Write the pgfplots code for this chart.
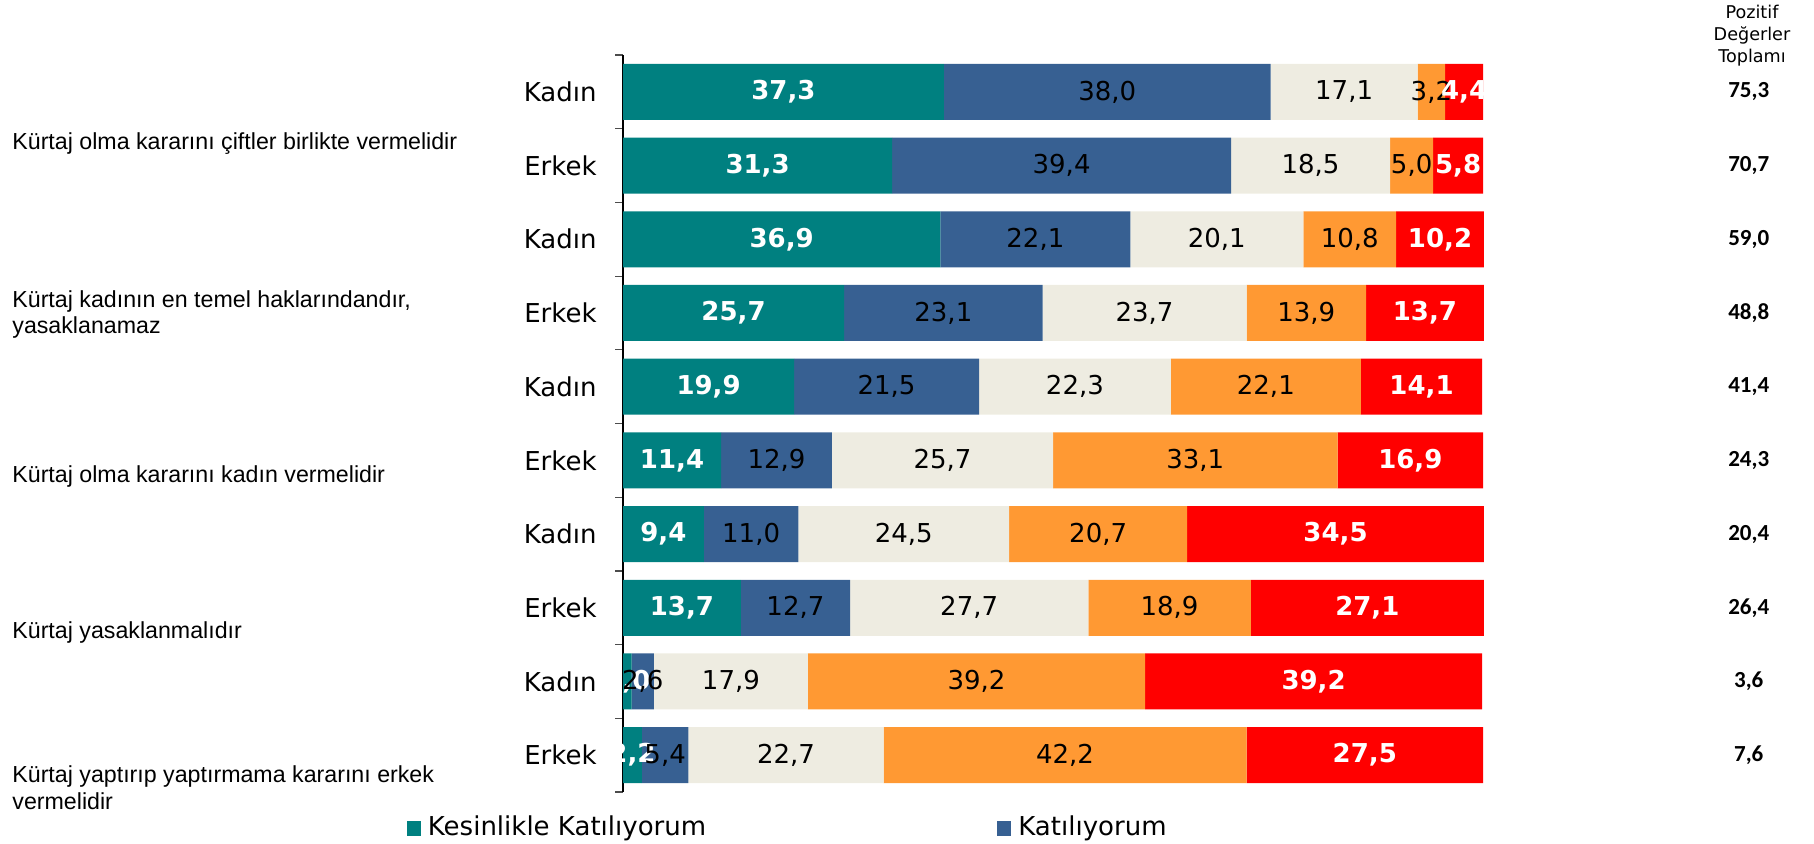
\documentclass[border=0pt]{standalone}
\usepackage{fontspec}
\setmainfont{DejaVu Sans}
\newfontfamily\arialf{Liberation Sans}
\newfontfamily\calib{Carlito}
\usepackage{pgfplots}
\usepackage{pgfplotstable}
\pgfplotsset{compat=1.18}
\definecolor{cTeal}{RGB}{0,128,128}
\definecolor{cBlue}{RGB}{55,96,146}
\definecolor{cBeige}{RGB}{238,236,225}
\definecolor{cOrange}{RGB}{255,153,51}
\definecolor{cRed}{RGB}{255,0,0}
\pgfplotstableread{
row a b c d e
0 37.3 38.0 17.1 3.2 4.4
1 31.3 39.4 18.5 5.0 5.8
2 36.9 22.1 20.1 10.8 10.2
3 25.7 23.1 23.7 13.9 13.7
4 19.9 21.5 22.3 22.1 14.1
5 11.4 12.9 25.7 33.1 16.9
6 9.4 11.0 24.5 20.7 34.5
7 13.7 12.7 27.7 18.9 27.1
8 1.0 2.6 17.9 39.2 39.2
9 2.2 5.4 22.7 42.2 27.5
}\datatab
\pgfplotstablecreatecol[create col/expr={\thisrow{a}/2}]{ma}{\datatab}
\pgfplotstablecreatecol[create col/expr={\thisrow{a}+\thisrow{b}/2}]{mb}{\datatab}
\pgfplotstablecreatecol[create col/expr={\thisrow{a}+\thisrow{b}+\thisrow{c}/2}]{mc}{\datatab}
\pgfplotstablecreatecol[create col/expr={\thisrow{a}+\thisrow{b}+\thisrow{c}+\thisrow{d}/2}]{md}{\datatab}
\pgfplotstablecreatecol[create col/expr={\thisrow{a}+\thisrow{b}+\thisrow{c}+\thisrow{d}+\thisrow{e}/2}]{me}{\datatab}
\pgfplotsset{
  lbl/.style={draw=none, mark=none, point meta=explicit symbolic,
    nodes near coords={\pgfmathprintnumber[assume math mode=true,fixed,fixed zerofill,precision=1,use comma]{\pgfplotspointmeta}},
    every node near coord/.append style={anchor=center, inner sep=0pt, #1}},
  geom/.style={at={(311.5pt,-27.5pt)}, anchor=north west,
    x=4.3pt, y=36.85pt, y dir=reverse,
    xmin=0, xmax=100, ymin=-0.5, ymax=9.5, clip=false},
}
\begin{document}
\begin{tikzpicture}
\path[use as bounding box] (0,0) rectangle (907pt,-421.5pt);
\begin{axis}[geom,
  xbar stacked, bar width=0.76,
  axis y line=left, axis x line=none,
  y axis line style={-, line width=0.6pt, black},
  xtick=\empty,
  ytick={0,...,9},
  yticklabels={Kadın,Erkek,Kadın,Erkek,Kadın,Erkek,Kadın,Erkek,Kadın,Erkek},
  minor ytick={-0.5,0.5,...,9.5},
  major tick length=0pt, minor tick length=4pt, tick align=outside,
  tick style={gray!60!black, line width=0.6pt},
  yticklabel style={font=\fontsize{13pt}{15pt}\selectfont, anchor=east, inner sep=0pt, xshift=-13pt},
  legend style={at={(axis description cs:-0.2512,-0.0482)}, anchor=west, draw=none, fill=none,
    inner sep=0pt, outer sep=0pt, font=\fontsize{13pt}{15pt}\selectfont,
    nodes={inner sep=0pt, outer sep=0pt}, cells={anchor=base west},
    /tikz/every odd column/.append style={column sep=3.5pt}},
  legend columns=2,
  legend image code/.code={\fill[#1] (0pt,0pt) rectangle (7pt,7.5pt);},
]
\addplot[fill=cTeal, draw=none] table[x=a,y=row]{\datatab};
\addlegendentry{\makebox[284.7pt][l]{Kesinlikle Katılıyorum}}
\addplot[fill=cBlue, draw=none] table[x=b,y=row]{\datatab};
\addlegendentry{Katılıyorum}
\addplot[fill=cBeige, draw=none] table[x=c,y=row]{\datatab};
\addplot[fill=cOrange, draw=none] table[x=d,y=row]{\datatab};
\addplot[fill=cRed, draw=none] table[x=e,y=row]{\datatab};
\end{axis}
\begin{axis}[geom, hide axis]
\addplot[lbl={text=white, font=\bfseries\fontsize{13pt}{15pt}\selectfont}] table[x=ma,y=row,meta=a]{\datatab};
\addplot[lbl={text=black, font=\fontsize{13pt}{15pt}\selectfont}] table[x=mb,y=row,meta=b]{\datatab};
\addplot[lbl={text=black, font=\fontsize{13pt}{15pt}\selectfont}] table[x=mc,y=row,meta=c]{\datatab};
\addplot[lbl={text=black, font=\fontsize{13pt}{15pt}\selectfont}] table[x=md,y=row,meta=d]{\datatab};
\addplot[lbl={text=white, font=\bfseries\fontsize{13pt}{15pt}\selectfont}] table[x=me,y=row,meta=e]{\datatab};
\begin{scope}[every node/.style={font=\calib\bfseries\fontsize{11.5pt}{13pt}\selectfont, anchor=center, inner sep=0pt}]
\node at (axis cs:130.9,0) {75,3};
\node at (axis cs:130.9,1) {70,7};
\node at (axis cs:130.9,2) {59,0};
\node at (axis cs:130.9,3) {48,8};
\node at (axis cs:130.9,4) {41,4};
\node at (axis cs:130.9,5) {24,3};
\node at (axis cs:130.9,6) {20,4};
\node at (axis cs:130.9,7) {26,4};
\node at (axis cs:130.9,8) {3,6};
\node at (axis cs:130.9,9) {7,6};
\end{scope}
\end{axis}
\begin{scope}[every node/.style={font=\fontsize{8.8pt}{11pt}\selectfont, anchor=base, inner sep=0pt}]
\node at (876pt,-9pt) {Pozitif};
\node at (876pt,-20pt) {Değerler};
\node at (876pt,-31pt) {Toplamı};
\end{scope}
\begin{scope}[every node/.style={font=\arialf\fontsize{11.6pt}{13pt}\selectfont, anchor=base west, inner sep=0pt}]
\node at (6pt,-74.5pt) {Kürtaj olma kararını çiftler birlikte vermelidir};
\node at (6pt,-153.5pt) {Kürtaj kadının en temel haklarındandır,};
\node at (6pt,-166.5pt) {yasaklanamaz};
\node at (6pt,-241pt) {Kürtaj olma kararını kadın vermelidir};
\node at (6pt,-319pt) {Kürtaj yasaklanmalıdır};
\node at (6pt,-391pt) {Kürtaj yaptırıp yaptırmama kararını erkek};
\node at (6pt,-404.5pt) {vermelidir};
\end{scope}
\end{tikzpicture}
\end{document}
